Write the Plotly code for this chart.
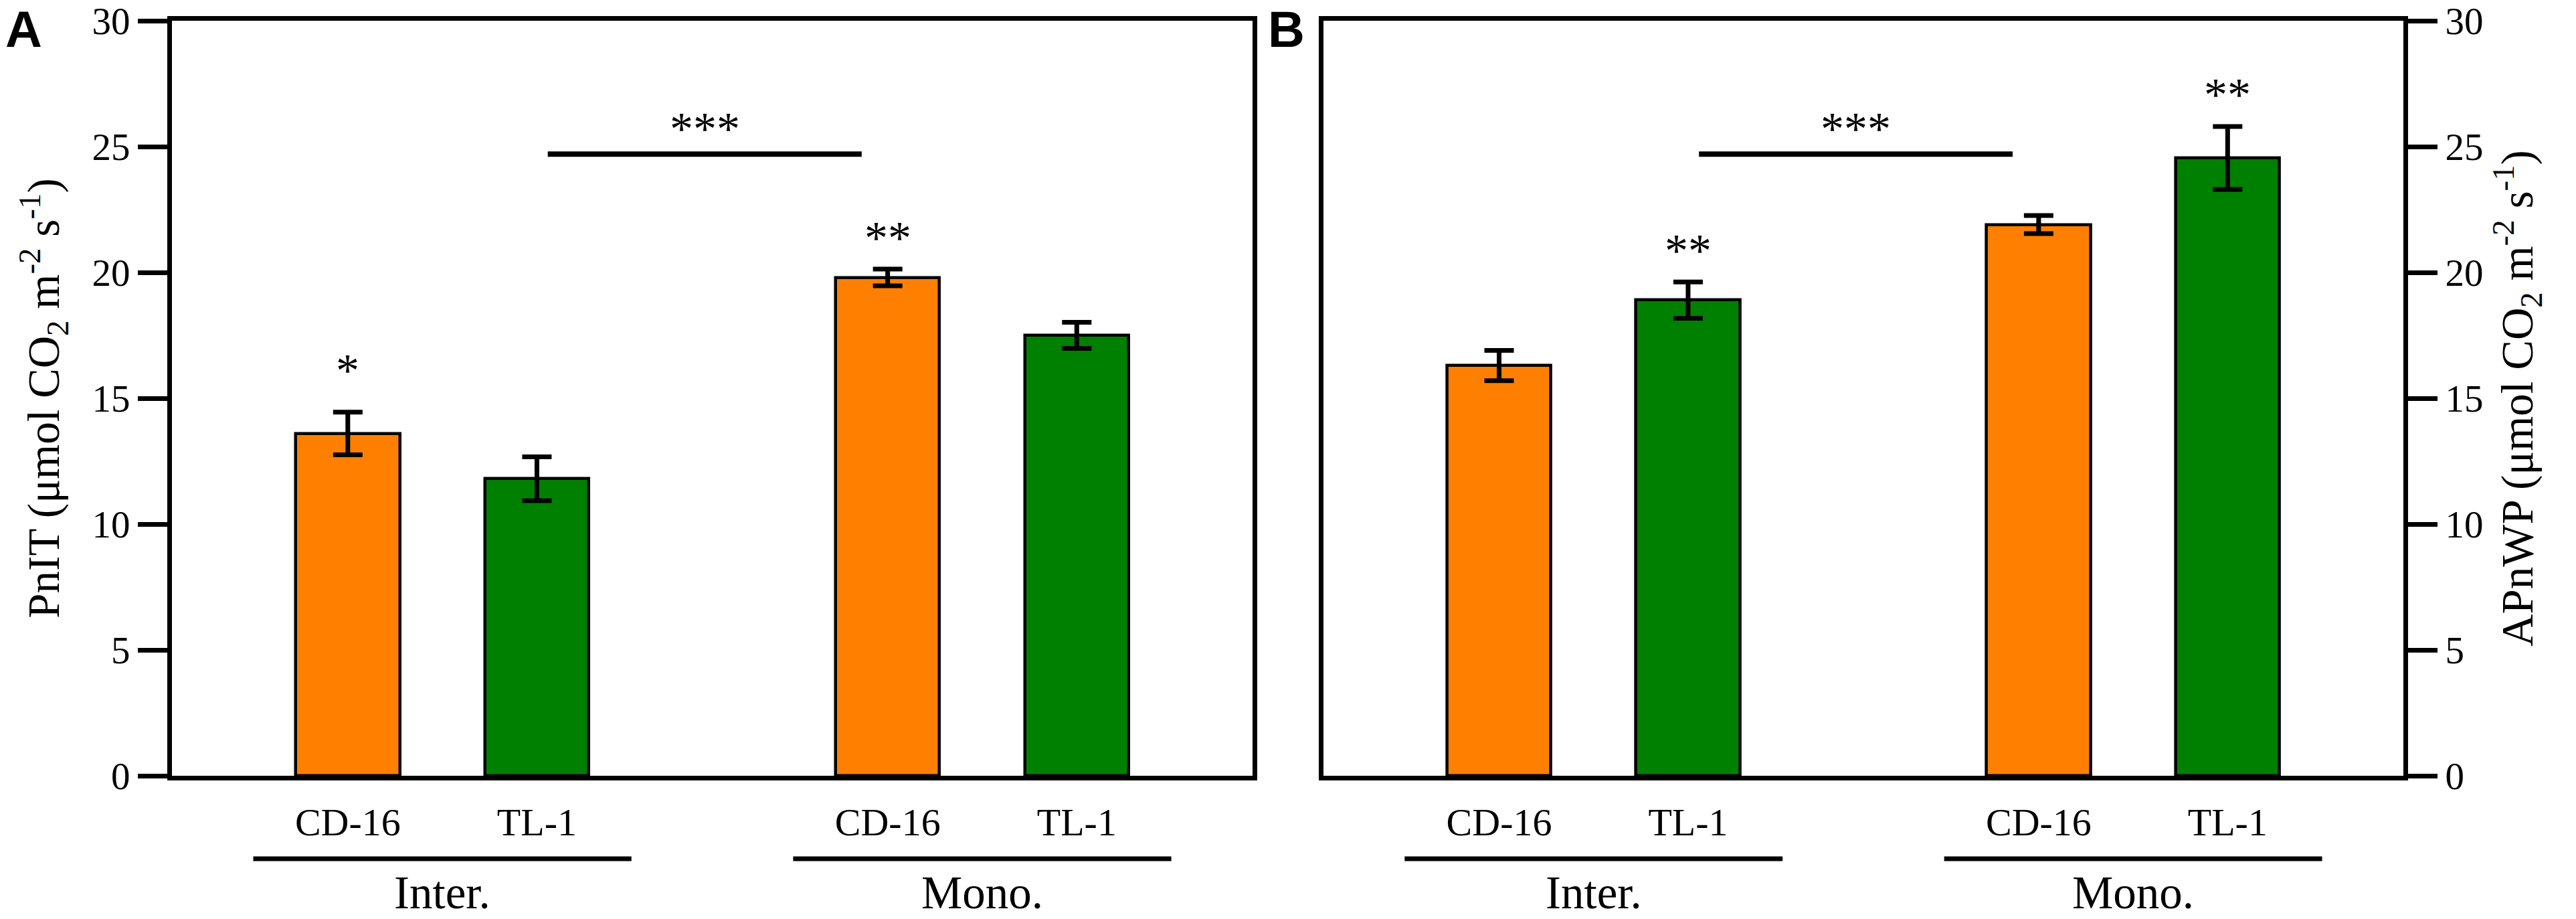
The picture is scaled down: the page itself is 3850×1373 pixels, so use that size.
import plotly.graph_objects as go

# ---------------- data ----------------
groups = ["Inter.", "Mono."]
cultivars = ["CD-16", "TL-1"]
colors = ["#FF8000", "#008000"]

# Panel A: PnIT (bars ordered Inter CD-16, Inter TL-1, Mono CD-16, Mono TL-1)
pnit_mean = [13.6, 11.8, 19.8, 17.5]
pnit_se = [0.85, 0.87, 0.33, 0.52]
pnit_sig = ["*", "", "**", ""]

# Panel B: APnWP
apnwp_mean = [16.3, 18.9, 21.9, 24.55]
apnwp_se = [0.6, 0.72, 0.36, 1.25]
apnwp_sig = ["", "**", "", "**"]

bracket_label = "***"
bracket_level = 24.7

y_ticks = [0, 5, 10, 15, 20, 25, 30]

title_a = "PnIT (μmol CO<sub>2</sub> m<sup>-2</sup> s<sup>-1</sup>)"
title_b = "APnWP (μmol CO<sub>2</sub> m<sup>-2</sup> s<sup>-1</sup>)"

# ---------------- layout constants ----------------
SERIF = "Liberation Serif, Times New Roman, serif"
SANS = "Liberation Sans, Arial, sans-serif"
GROUP_STEP = 2.855
BAR_W = 0.55
LW = 7
XR = [0.07, 5.785]
STAR_GAP = 1.25

pos = [1 + g * GROUP_STEP + c for g in range(len(groups)) for c in range(len(cultivars))]
bar_colors = [colors[c] for g in range(len(groups)) for c in range(len(cultivars))]
tick_text = [cultivars[c] for g in range(len(groups)) for c in range(len(cultivars))]

fig = go.Figure()

panels = [
    (pnit_mean, pnit_se, pnit_sig, "x", "y"),
    (apnwp_mean, apnwp_se, apnwp_sig, "x2", "y2"),
]

annotations = []
shapes = []
for means, ses, sigs, xa, ya in panels:
    fig.add_trace(go.Bar(
        x=pos, y=means, width=BAR_W, xaxis=xa, yaxis=ya,
        marker=dict(color=bar_colors, line=dict(color="black", width=4.5)),
        error_y=dict(type="data", array=ses, visible=True, color="black",
                     thickness=7, width=22),
        showlegend=False, hoverinfo="skip",
    ))
    for x, m, s, lab in zip(pos, means, ses, sigs):
        if lab:
            gap = STAR_GAP + (0.4 if len(lab) == 1 else 0.0)
            annotations.append(dict(
                x=x, y=m + s + gap, xref=xa, yref=ya, text=lab, showarrow=False,
                xanchor="center", yanchor="middle",
                font=dict(family=SERIF, size=70, color="black")))
    # bracket between Inter TL-1 and Mono CD-16
    mid = (pos[1] + pos[2]) / 2 - 0.04
    shapes.append(dict(type="line", xref=xa, yref=ya, x0=mid - 0.83, x1=mid + 0.83,
                       y0=bracket_level, y1=bracket_level,
                       line=dict(color="black", width=8)))
    annotations.append(dict(x=mid, y=bracket_level + 1.0, xref=xa, yref=ya,
                            text=bracket_label, showarrow=False,
                            xanchor="center", yanchor="middle",
                            font=dict(family=SERIF, size=70, color="black")))
    # group lines and labels under the axis
    for g, gname in enumerate(groups):
        gx = pos[g * 2:(g + 1) * 2]
        shapes.append(dict(type="line", xref=xa, yref="paper",
                           x0=gx[0] - 0.5, x1=gx[1] + 0.5, y0=-0.110, y1=-0.110,
                           line=dict(color="black", width=LW)))
        annotations.append(dict(x=sum(gx) / 2, y=-0.155, xref=xa, yref="paper",
                                text=gname, showarrow=False, xanchor="center",
                                yanchor="middle",
                                font=dict(family=SERIF, size=69, color="black")))

# panel letters
annotations.append(dict(x=-0.0663, y=0.9885, xref="paper", yref="paper", text="<b>A</b>",
                        showarrow=False, xanchor="center", yanchor="middle",
                        font=dict(family=SANS, size=76, color="black")))
annotations.append(dict(x=0.4993, y=0.9885, xref="paper", yref="paper", text="<b>B</b>",
                        showarrow=False, xanchor="center", yanchor="middle",
                        font=dict(family=SANS, size=76, color="black")))

xaxis_common = dict(range=XR, showline=True, linewidth=LW, linecolor="black", mirror=True,
                    tickmode="array", tickvals=pos, ticktext=tick_text,
                    ticks="outside", ticklen=12, tickcolor="rgba(0,0,0,0)",
                    tickfont=dict(family=SERIF, size=58, color="black"),
                    automargin=False,
                    showgrid=False, zeroline=False, fixedrange=True)
yaxis_common = dict(range=[0, 30], tickmode="array", tickvals=y_ticks,
                    ticks="outside", ticklen=44, tickwidth=LW, tickcolor="black",
                    showline=True, linewidth=LW, linecolor="black", mirror=True,
                    tickfont=dict(family=SERIF, size=57, color="black"),
                    ticklabeloverflow="allow", automargin=False,
                    showgrid=False, zeroline=False, fixedrange=True)

fig.update_layout(
    width=3850, height=1373,
    margin=dict(l=257, r=258, t=31, b=214, autoexpand=False),
    paper_bgcolor="white", plot_bgcolor="white",
    xaxis=dict(domain=[0, 0.4843], anchor="y", **xaxis_common),
    xaxis2=dict(domain=[0.516, 1], anchor="y2", **xaxis_common),
    yaxis=dict(anchor="x", side="left",
               title=dict(text=title_a, standoff=30,
                          font=dict(family=SERIF, size=67, color="black")),
               **yaxis_common),
    yaxis2=dict(anchor="x2", side="right",
                title=dict(text=title_b, standoff=30,
                           font=dict(family=SERIF, size=67, color="black")),
                **yaxis_common),
    shapes=shapes,
    annotations=annotations,
    bargap=0,
)

fig.write_html("out.html", config={"displayModeBar": False},
               post_script="document.body.style.margin='0';")
